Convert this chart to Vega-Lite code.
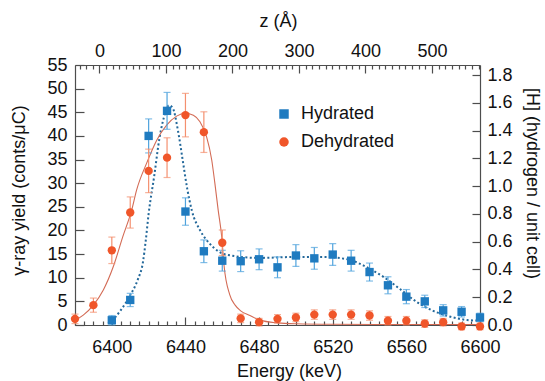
{
  "$schema": "https://vega.github.io/schema/vega-lite/v6.json",
  "width": 405,
  "height": 260,
  "autosize": {"type": "none"},
  "padding": {"left": 75, "top": 65, "right": 65, "bottom": 56},
  "background": "white",
  "config": {
    "view": {"stroke": null},
    "font": "Liberation Sans",
    "axis": {
      "grid": false,
      "domainColor": "#4d4d4d",
      "tickColor": "#4d4d4d",
      "domainWidth": 1.2,
      "tickWidth": 1.2,
      "labelFont": "Liberation Sans",
      "labelFontSize": 18,
      "labelColor": "#111111",
      "titleFont": "Liberation Sans",
      "titleFontSize": 18,
      "titleFontWeight": "normal",
      "titleColor": "#111111",
      "labelFlush": false,
      "labelOverlap": false
    }
  },
  "datasets": {
    "points": [
      {"series": "Hydrated", "E": 6400, "y": 1.0, "err": 1.0},
      {"series": "Hydrated", "E": 6410, "y": 5.3, "err": 1.4},
      {"series": "Hydrated", "E": 6420, "y": 40.0, "err": 3.6},
      {"series": "Hydrated", "E": 6430, "y": 45.3, "err": 3.9},
      {"series": "Hydrated", "E": 6440, "y": 24.0, "err": 2.9},
      {"series": "Hydrated", "E": 6450, "y": 15.6, "err": 2.4},
      {"series": "Hydrated", "E": 6460, "y": 13.6, "err": 2.2},
      {"series": "Hydrated", "E": 6470, "y": 13.5, "err": 2.2},
      {"series": "Hydrated", "E": 6480, "y": 13.9, "err": 2.2},
      {"series": "Hydrated", "E": 6490, "y": 12.2, "err": 2.2},
      {"series": "Hydrated", "E": 6500, "y": 14.7, "err": 2.3},
      {"series": "Hydrated", "E": 6510, "y": 14.1, "err": 2.3},
      {"series": "Hydrated", "E": 6520, "y": 14.9, "err": 2.3},
      {"series": "Hydrated", "E": 6530, "y": 13.6, "err": 2.2},
      {"series": "Hydrated", "E": 6540, "y": 11.2, "err": 1.9},
      {"series": "Hydrated", "E": 6550, "y": 8.4, "err": 1.8},
      {"series": "Hydrated", "E": 6560, "y": 6.0, "err": 1.5},
      {"series": "Hydrated", "E": 6570, "y": 5.0, "err": 1.3},
      {"series": "Hydrated", "E": 6580, "y": 3.1, "err": 1.2},
      {"series": "Hydrated", "E": 6590, "y": 2.8, "err": 1.1},
      {"series": "Hydrated", "E": 6600, "y": 1.6, "err": 0.9},
      {"series": "Dehydrated", "E": 6380, "y": 1.3, "err": 1.0},
      {"series": "Dehydrated", "E": 6390, "y": 4.2, "err": 1.5},
      {"series": "Dehydrated", "E": 6400, "y": 15.8, "err": 2.8},
      {"series": "Dehydrated", "E": 6410, "y": 23.8, "err": 3.3},
      {"series": "Dehydrated", "E": 6420, "y": 32.6, "err": 4.6},
      {"series": "Dehydrated", "E": 6430, "y": 35.4, "err": 4.2},
      {"series": "Dehydrated", "E": 6440, "y": 44.4, "err": 4.6},
      {"series": "Dehydrated", "E": 6450, "y": 40.8, "err": 4.3},
      {"series": "Dehydrated", "E": 6460, "y": 17.4, "err": 2.7},
      {"series": "Dehydrated", "E": 6470, "y": 1.4, "err": 0.9},
      {"series": "Dehydrated", "E": 6480, "y": 0.6, "err": 0.8},
      {"series": "Dehydrated", "E": 6490, "y": 1.3, "err": 0.9},
      {"series": "Dehydrated", "E": 6500, "y": 1.6, "err": 0.9},
      {"series": "Dehydrated", "E": 6510, "y": 2.2, "err": 1.0},
      {"series": "Dehydrated", "E": 6520, "y": 2.2, "err": 1.0},
      {"series": "Dehydrated", "E": 6530, "y": 2.2, "err": 1.0},
      {"series": "Dehydrated", "E": 6540, "y": 2.0, "err": 1.0},
      {"series": "Dehydrated", "E": 6550, "y": 0.9, "err": 0.9},
      {"series": "Dehydrated", "E": 6560, "y": 0.9, "err": 0.9},
      {"series": "Dehydrated", "E": 6570, "y": 0.3, "err": 0.8},
      {"series": "Dehydrated", "E": 6580, "y": 0.6, "err": 0.8},
      {"series": "Dehydrated", "E": 6590, "y": -0.3, "err": 0.7},
      {"series": "Dehydrated", "E": 6600, "y": -0.3, "err": 0.7}
    ],
    "curves": [
      {"series": "Hydrated", "z": 13.0, "H": 0.014},
      {"series": "Hydrated", "z": 18.5, "H": 0.031},
      {"series": "Hydrated", "z": 32.4, "H": 0.109},
      {"series": "Hydrated", "z": 46.2, "H": 0.214},
      {"series": "Hydrated", "z": 57.3, "H": 0.323},
      {"series": "Hydrated", "z": 65.6, "H": 0.459},
      {"series": "Hydrated", "z": 69.7, "H": 0.613},
      {"series": "Hydrated", "z": 73.9, "H": 0.800},
      {"series": "Hydrated", "z": 82.2, "H": 1.069},
      {"series": "Hydrated", "z": 90.5, "H": 1.354},
      {"series": "Hydrated", "z": 98.8, "H": 1.525},
      {"series": "Hydrated", "z": 104.3, "H": 1.582},
      {"series": "Hydrated", "z": 109.9, "H": 1.565},
      {"series": "Hydrated", "z": 118.2, "H": 1.395},
      {"series": "Hydrated", "z": 125.1, "H": 1.188},
      {"series": "Hydrated", "z": 132.0, "H": 0.980},
      {"series": "Hydrated", "z": 138.9, "H": 0.824},
      {"series": "Hydrated", "z": 151.4, "H": 0.681},
      {"series": "Hydrated", "z": 165.2, "H": 0.589},
      {"series": "Hydrated", "z": 190.2, "H": 0.507},
      {"series": "Hydrated", "z": 240.0, "H": 0.483},
      {"series": "Hydrated", "z": 295.4, "H": 0.490},
      {"series": "Hydrated", "z": 336.9, "H": 0.490},
      {"series": "Hydrated", "z": 375.6, "H": 0.470},
      {"series": "Hydrated", "z": 400.6, "H": 0.419},
      {"series": "Hydrated", "z": 426.9, "H": 0.347},
      {"series": "Hydrated", "z": 451.8, "H": 0.259},
      {"series": "Hydrated", "z": 476.7, "H": 0.167},
      {"series": "Hydrated", "z": 501.6, "H": 0.102},
      {"series": "Hydrated", "z": 526.5, "H": 0.061},
      {"series": "Hydrated", "z": 552.8, "H": 0.036},
      {"series": "Hydrated", "z": 572.2, "H": 0.031},
      {"series": "Dehydrated", "z": -36.8, "H": 0.034},
      {"series": "Dehydrated", "z": -24.4, "H": 0.071},
      {"series": "Dehydrated", "z": -9.2, "H": 0.143},
      {"series": "Dehydrated", "z": 5.8, "H": 0.252},
      {"series": "Dehydrated", "z": 20.7, "H": 0.419},
      {"series": "Dehydrated", "z": 35.1, "H": 0.636},
      {"series": "Dehydrated", "z": 48.4, "H": 0.827},
      {"series": "Dehydrated", "z": 55.9, "H": 0.973},
      {"series": "Dehydrated", "z": 70.8, "H": 1.164},
      {"series": "Dehydrated", "z": 86.1, "H": 1.331},
      {"series": "Dehydrated", "z": 101.0, "H": 1.439},
      {"series": "Dehydrated", "z": 116.0, "H": 1.504},
      {"series": "Dehydrated", "z": 128.7, "H": 1.525},
      {"series": "Dehydrated", "z": 141.2, "H": 1.511},
      {"series": "Dehydrated", "z": 151.1, "H": 1.463},
      {"series": "Dehydrated", "z": 161.1, "H": 1.354},
      {"series": "Dehydrated", "z": 168.8, "H": 1.188},
      {"series": "Dehydrated", "z": 173.5, "H": 1.021},
      {"series": "Dehydrated", "z": 178.5, "H": 0.827},
      {"series": "Dehydrated", "z": 183.8, "H": 0.636},
      {"series": "Dehydrated", "z": 187.4, "H": 0.425},
      {"series": "Dehydrated", "z": 195.7, "H": 0.221},
      {"series": "Dehydrated", "z": 204.0, "H": 0.143},
      {"series": "Dehydrated", "z": 212.3, "H": 0.102},
      {"series": "Dehydrated", "z": 226.2, "H": 0.068},
      {"series": "Dehydrated", "z": 240.0, "H": 0.037},
      {"series": "Dehydrated", "z": 267.7, "H": 0.015},
      {"series": "Dehydrated", "z": 295.4, "H": 0.0085},
      {"series": "Dehydrated", "z": 350.5, "H": 0.005},
      {"series": "Dehydrated", "z": 461.3, "H": 0.0034},
      {"series": "Dehydrated", "z": 572.2, "H": 0.0034}
    ]
  },
  "layer": [
    {
      "data": {"name": "curves"},
      "encoding": {
        "x": {
          "field": "z", "type": "quantitative",
          "scale": {"domain": [-36.8, 572.2], "nice": false, "zero": false},
          "axis": {
            "orient": "top",
            "title": "z (Å)",
            "values": [-30,-20,-10,0,10,20,30,40,50,60,70,80,90,100,110,120,130,140,150,160,170,180,190,200,210,220,230,240,250,260,270,280,290,300,310,320,330,340,350,360,370,380,390,400,410,420,430,440,450,460,470,480,490,500,510,520,530,540,550,560,570],
            "labelExpr": "datum.value >= 0 && datum.value % 100 == 0 ? datum.label : ''",
            "tickSize": {"condition": {"test": "datum.value % 100 == 0", "value": -8}, "value": -4},
            "labelPadding": 13,
            "titleX": 203,
            "titleY": -39,
            "titleAlign": "center",
            "titleBaseline": "alphabetic"
          }
        },
        "y": {
          "field": "H", "type": "quantitative",
          "scale": {"domain": [0, 1.872], "nice": false, "zero": false},
          "axis": {
            "orient": "right",
            "title": "[H] (hydrogen / unit cell)",
            "values": [0, 0.2, 0.4, 0.6, 0.8, 1.0, 1.2, 1.4, 1.6, 1.8],
            "format": ".1f",
            "tickSize": -8,
            "labelPadding": 15,
            "titleX": 51,
            "titleY": 118,
            "titleAngle": 90,
            "titleAlign": "center",
            "titleBaseline": "middle"
          }
        }
      },
      "layer": [
        {
          "transform": [{"filter": "datum.series == 'Hydrated'"}],
          "mark": {"type": "line", "color": "#23689a", "strokeWidth": 2, "strokeDash": [2, 2.4], "interpolate": "monotone"}
        },
        {
          "transform": [{"filter": "datum.series == 'Dehydrated'"}],
          "mark": {"type": "line", "color": "#d36b55", "strokeWidth": 1.1, "interpolate": "monotone"}
        }
      ]
    },
    {
      "data": {"name": "points"},
      "encoding": {
        "x": {
          "field": "E", "type": "quantitative",
          "scale": {"domain": [6380, 6600], "nice": false, "zero": false},
          "axis": {
            "orient": "bottom",
            "title": "Energy (keV)",
            "values": [6380,6385,6390,6395,6400,6405,6410,6415,6420,6425,6430,6435,6440,6445,6450,6455,6460,6465,6470,6475,6480,6485,6490,6495,6500,6505,6510,6515,6520,6525,6530,6535,6540,6545,6550,6555,6560,6565,6570,6575,6580,6585,6590,6595,6600],
            "format": "d",
            "labelExpr": "datum.value % 40 == 0 ? datum.label : ''",
            "tickSize": {"condition": {"test": "datum.value % 40 == 0", "value": -8}, "value": -4},
            "labelPadding": 21,
            "titleX": 214,
            "titleY": 51,
            "titleAlign": "center",
            "titleBaseline": "alphabetic"
          }
        },
        "y": {
          "field": "y", "type": "quantitative",
          "scale": {"domain": [0, 55], "nice": false, "zero": false},
          "axis": {
            "orient": "left",
            "title": "γ-ray yield (conts/μC)",
            "values": [0, 5, 10, 15, 20, 25, 30, 35, 40, 45, 50, 55],
            "tickSize": -9,
            "labelPadding": 17,
            "titleX": -56,
            "titleY": 125,
            "titleAngle": -90,
            "titleAlign": "center",
            "titleBaseline": "middle"
          }
        }
      },
      "layer": [
        {
          "transform": [{"filter": "datum.series == 'Hydrated'"}],
          "mark": {"type": "errorbar", "ticks": true, "size": 7, "thickness": 1.2, "color": "#4fa3dd"},
          "encoding": {"yError": {"field": "err"}}
        },
        {
          "transform": [{"filter": "datum.series == 'Dehydrated'"}],
          "mark": {"type": "errorbar", "ticks": true, "size": 7, "thickness": 1.2, "color": "#f4906f"},
          "encoding": {"yError": {"field": "err"}}
        },
        {
          "mark": {"type": "point", "filled": true, "opacity": 1, "size": 70},
          "encoding": {
            "shape": {
              "field": "series", "type": "nominal",
              "scale": {"domain": ["Hydrated", "Dehydrated"], "range": ["square", "circle"]},
              "legend": {"title": null, "orient": "none", "legendX": 200, "legendY": 40, "labelFont": "Liberation Sans", "labelFontSize": 18, "labelColor": "#111111", "symbolSize": 90, "rowPadding": 10, "labelOffset": 8, "padding": 0}
            },
            "color": {
              "field": "series", "type": "nominal",
              "scale": {"domain": ["Hydrated", "Dehydrated"], "range": ["#1f7bc0", "#f0562a"]},
              "legend": {"title": null, "orient": "none", "legendX": 200, "legendY": 40, "labelFont": "Liberation Sans", "labelFontSize": 18, "labelColor": "#111111", "symbolSize": 90, "rowPadding": 10, "labelOffset": 8, "padding": 0}
            }
          }
        }
      ]
    }
  ],
  "resolve": {"scale": {"x": "independent", "y": "independent"}}
}
